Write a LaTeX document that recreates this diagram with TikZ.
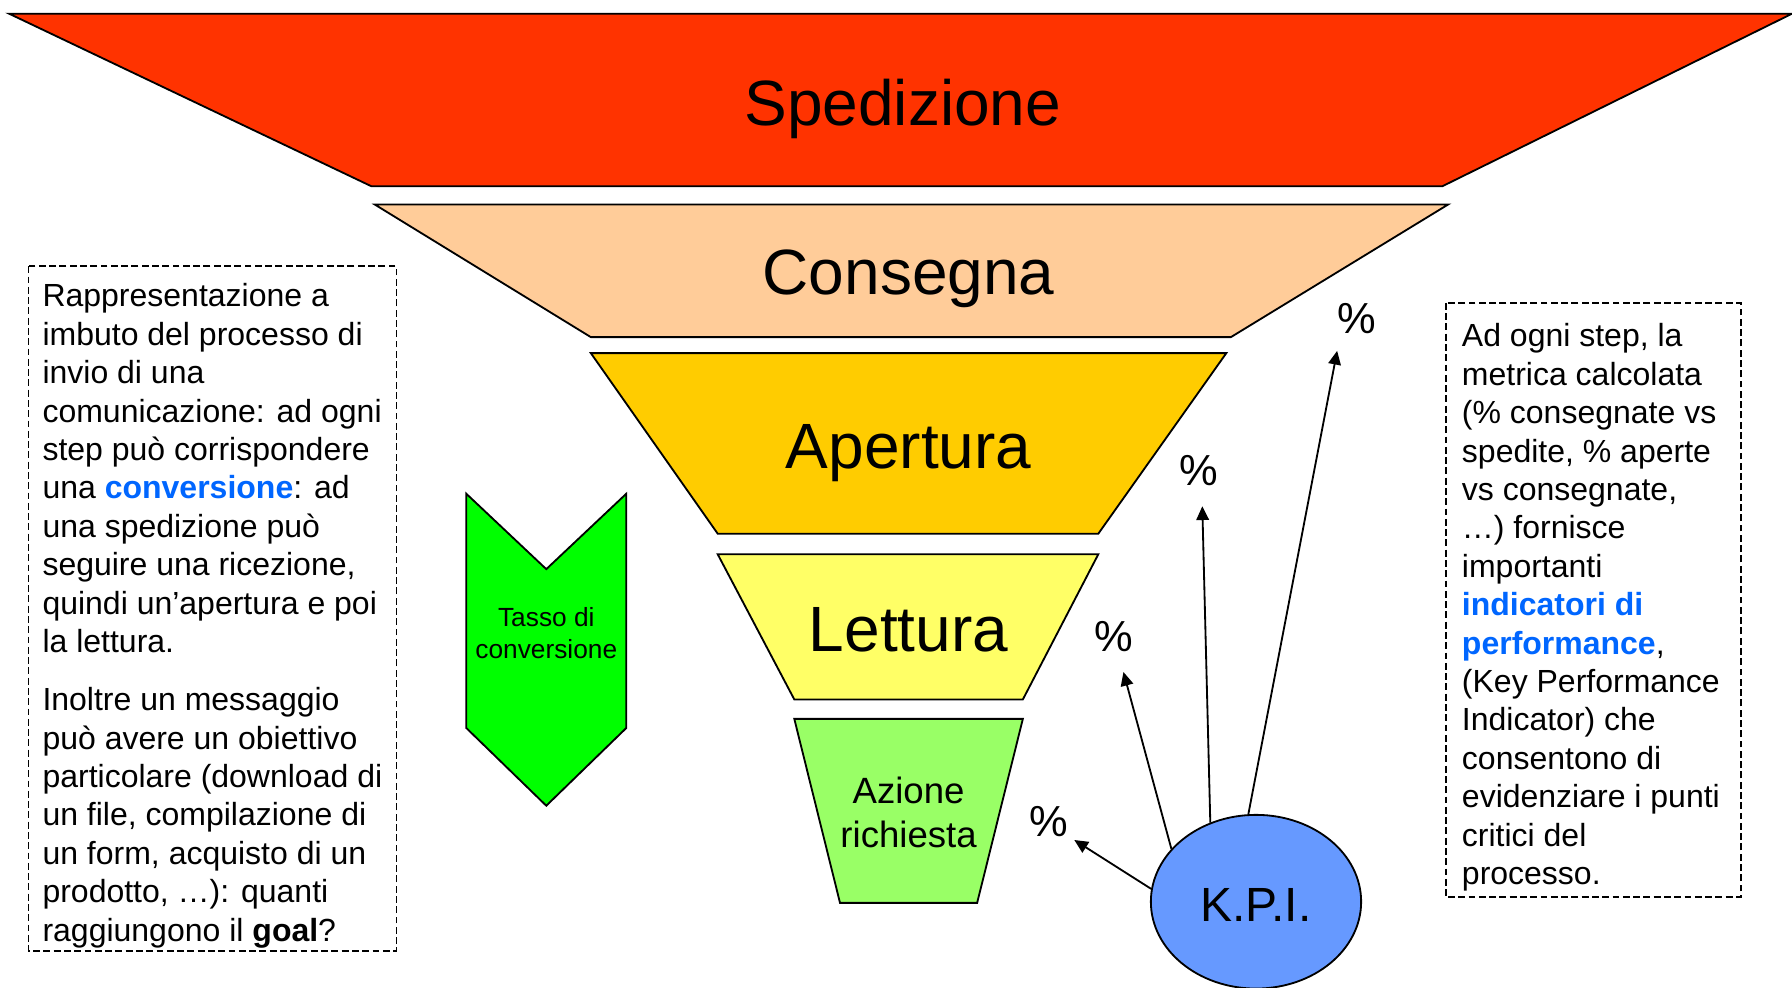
\documentclass[tikz,border=0pt]{standalone}
\usepackage{fontspec}
\setmainfont{Liberation Sans}
\usetikzlibrary{arrows.meta,shapes.geometric}
\definecolor{cSped}{HTML}{FF3300}
\definecolor{cCons}{HTML}{FFCC99}
\definecolor{cAper}{HTML}{FFCC00}
\definecolor{cLett}{HTML}{FFFF66}
\definecolor{cAzio}{HTML}{99FF66}
\definecolor{cChev}{HTML}{00FF00}
\definecolor{cKpi}{HTML}{6699FF}
\definecolor{cBlue}{HTML}{0066FF}
\begin{document}
\begin{tikzpicture}[x=1pt,y=-1pt,line join=miter]
\tikzset{
  stage/.style={draw=black,line width=1.6pt},
  stagetext/.style={inner sep=0pt,text=black,font=\fontsize{56}{60}\selectfont},
  pct/.style={inner sep=0pt,font=\fontsize{38}{40}\selectfont},
  arr/.style={line width=1.6pt,-{Triangle[length=12pt,width=11pt]}},
  notebox/.style={draw=black,line width=1.6pt,dash pattern=on 6pt off 3pt},
  notetext/.style={inner sep=0pt,align=left,font=\fontsize{28}{33.6}\selectfont}
}
\useasboundingbox (0,0) rectangle (1568,864);
% funnel
\filldraw[stage,fill=cSped] (8,12) -- (1568,12) -- (1262,163) -- (325,163) -- cycle;
\node[stagetext,anchor=base] (sped) at (790,110) {Spedizione};
\filldraw[stage,fill=cCons] (328,179) -- (1267,179) -- (1077,295) -- (517,295) -- cycle;
\node[stagetext,anchor=base] (cons) at (795,258) {Consegna};
\filldraw[stage,fill=cAper] (517,309) -- (1073,309) -- (961,467) -- (628,467) -- cycle;
\node[stagetext,anchor=base] (aper) at (795,410) {Apertura};
\filldraw[stage,fill=cLett] (628,485) -- (961,485) -- (895,612) -- (695,612) -- cycle;
\node[stagetext,anchor=base] (lett) at (795,570) {Lettura};
\filldraw[stage,fill=cAzio] (695,629) -- (895,629) -- (855,790) -- (735,790) -- cycle;
\node[inner sep=0pt,align=center,font=\fontsize{32}{38.4}\selectfont] (azio) at (795,711) {Azione\\richiesta};
% chevron
\filldraw[stage,fill=cChev] (408,432) -- (478,498) -- (548,432) -- (548,637) -- (478,705) -- (408,637) -- cycle;
\node[inner sep=0pt,align=center,font=\fontsize{23}{27.6}\selectfont] (tasso) at (478,554) {Tasso di\\conversione};
% KPI
\node[ellipse,draw=black,line width=1.6pt,fill=cKpi,minimum width=184pt,minimum height=152pt,inner sep=0pt] (kpi) at (1099,789) {};
\node[inner sep=0pt,anchor=base,font=\fontsize{42}{46}\selectfont] (kpitext) at (1099,806) {K.P.I.};
% percent labels
\node[pct,anchor=base] (p1) at (918,732) {\%};
\node[pct,anchor=base] (p2) at (975,570) {\%};
\node[pct,anchor=base] (p3) at (1049,425) {\%};
\node[pct,anchor=base] (p4) at (1187,292) {\%};
\coordinate (t1) at (940,735);
\coordinate (t2) at (983,588);
\coordinate (t3) at (1052,443);
\coordinate (t4) at (1170,307);
\draw[arr] (kpi.173) -- (t1);
\draw[arr] (kpi.148) -- (t2);
\draw[arr] (kpi.120) -- (t3);
\draw[arr] (kpi.95) -- (t4);
% notes
\draw[notebox] (25,233) rectangle (347,832);
\node[notetext,anchor=north west] (leftnote) at (37,248) {Rappresentazione a\\
imbuto del processo di\\
invio di una\\
comunicazione: ad ogni\\
step può corrispondere\\
una \textbf{\color{cBlue}conversione}: ad\\
una spedizione può\\
seguire una ricezione,\\
quindi un’apertura e poi\\
la lettura.\\[17.4pt]
Inoltre un messaggio\\
può avere un obiettivo\\
particolare (download di\\
un file, compilazione di\\
un form, acquisto di un\\
prodotto, …): quanti\\
raggiungono il \textbf{goal}?};
\draw[notebox] (1265,265) rectangle (1523,785);
\node[notetext,anchor=north west] (rightnote) at (1279,283) {Ad ogni step, la\\
metrica calcolata\\
(\% consegnate vs\\
spedite, \% aperte\\
vs consegnate,\\
…) fornisce\\
importanti\\
\textbf{\color{cBlue}indicatori di}\\
\textbf{\color{cBlue}performance},\\
(Key Performance\\
Indicator) che\\
consentono di\\
evidenziare i punti\\
critici del\\
processo.};
\end{tikzpicture}
\end{document}
